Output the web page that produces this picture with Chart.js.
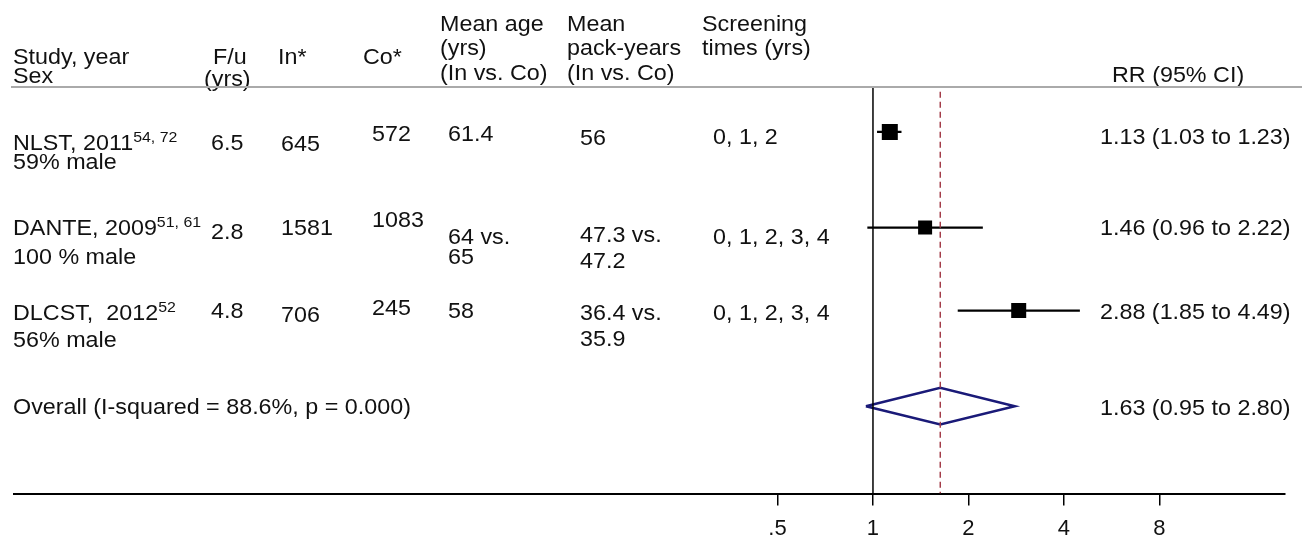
<!DOCTYPE html>
<html>
<head>
<meta charset="utf-8">
<script src="https://cdn.jsdelivr.net/npm/chart.js@4.4.1/dist/chart.umd.min.js"></script>
<style>
  html, body { margin: 0; padding: 0; background: #fff; }
</style>
</head>
<body>
<canvas id="forest" width="1311" height="552"></canvas>
<script>
// ---- data ----
const studies = ['NLST, 2011', 'DANTE, 2009', 'DLCST,  2012'];
const refs = ['54, 72', '51, 61', '52'];
const sex = ['59% male', '100 % male', '56% male'];
const followUp = ['6.5', '2.8', '4.8'];
const nIntervention = ['645', '1581', '706'];
const nControl = ['572', '1083', '245'];
const meanAge = [['61.4'], ['64 vs.', '65'], ['58']];
const packYears = [['56'], ['47.3 vs.', '47.2'], ['36.4 vs.', '35.9']];
const screening = ['0, 1, 2', '0, 1, 2, 3, 4', '0, 1, 2, 3, 4'];
const rr = [1.13, 1.46, 2.88];
const rrLow = [1.03, 0.96, 1.85];
const rrHigh = [1.23, 2.22, 4.49];
const overallLabel = 'Overall (I-squared = 88.6%, p = 0.000)';
const overallRR = 1.63;
const overallLow = 0.95;
const overallHigh = 2.80;
const tickVals = [0.5, 1, 2, 4, 8];
const tickLabels = ['.5', '1', '2', '4', '8'];

// ---- layout / style ----
const rowPos = [1, 2.046, 2.954, 4];      // study rows, overall row last
const boxSide = [16, 14, 15];             // px, box size per study
// baseline offsets (px below row centre) of each table cell, per study row
const dy = {
  study: [18, 7, 9], sex: [37, 36, 36],
  fu: [18, 11, 7], inN: [19, 7, 11], coN: [9, -1, 4],
  age: [9, 16, 7], pack: [13, 14, 9], screen: [12, 16, 9], rr: [12, 7, 8]
};
const FONT = '"Liberation Sans", Arial, sans-serif';
const STRETCH = 1.06;
const NAVY = '#1a1a78';
const MAROON = '#a33c48';

function put(ctx, str, x, y, size) {
  ctx.save();
  ctx.font = (size || 22) + 'px ' + FONT;
  ctx.translate(x, y);
  ctx.scale(STRETCH, 1);
  ctx.fillText(str, 0, 0);
  const w = ctx.measureText(str).width * STRETCH;
  ctx.restore();
  return w;
}

const fmt = (a, b, c) => a.toFixed(2) + ' (' + b.toFixed(2) + ' to ' + c.toFixed(2) + ')';

const tablePlugin = {
  id: 'tableText',
  afterDraw(chart) {
    const ctx = chart.ctx;
    const ys = chart.scales.y;
    ctx.save();
    ctx.fillStyle = '#111';
    ctx.textBaseline = 'alphabetic';
    ctx.textAlign = 'left';

    // header
    put(ctx, 'Study, year', 13, 64); put(ctx, 'Sex', 13, 83);
    put(ctx, 'F/u', 213, 64); put(ctx, '(yrs)', 204, 86);
    put(ctx, 'In*', 278, 64);
    put(ctx, 'Co*', 363, 64);
    put(ctx, 'Mean age', 440, 31); put(ctx, '(yrs)', 440, 55); put(ctx, '(In vs. Co)', 440, 80);
    put(ctx, 'Mean', 567, 31); put(ctx, 'pack-years', 567, 55); put(ctx, '(In vs. Co)', 567, 80);
    put(ctx, 'Screening', 702, 31); put(ctx, 'times (yrs)', 702, 55);
    put(ctx, 'RR (95% CI)', 1112, 82);

    ctx.strokeStyle = '#aaaaaa';
    ctx.lineWidth = 2;
    ctx.beginPath();
    ctx.moveTo(11, 87); ctx.lineTo(1302, 87);
    ctx.stroke();

    // study rows
    studies.forEach((name, i) => {
      const y = ys.getPixelForValue(rowPos[i]);
      const w = put(ctx, name, 13, y + dy.study[i]);
      put(ctx, refs[i], 13 + w, y + dy.study[i] - 8, 15);
      put(ctx, sex[i], 13, y + dy.sex[i]);
      put(ctx, followUp[i], 211, y + dy.fu[i]);
      put(ctx, nIntervention[i], 281, y + dy.inN[i]);
      put(ctx, nControl[i], 372, y + dy.coN[i]);
      meanAge[i].forEach((t, k) => put(ctx, t, 448, y + dy.age[i] + k * 20));
      packYears[i].forEach((t, k) => put(ctx, t, 580, y + dy.pack[i] + k * 26));
      put(ctx, screening[i], 713, y + dy.screen[i]);
      put(ctx, fmt(rr[i], rrLow[i], rrHigh[i]), 1100, y + dy.rr[i]);
    });

    const yo = ys.getPixelForValue(rowPos[3]);
    put(ctx, overallLabel, 13, yo + 8);
    put(ctx, fmt(overallRR, overallLow, overallHigh), 1100, yo + 9);
    ctx.restore();
  }
};

const yMin = 0.498, yMax = 4.956;
const datasets = [];

// line of no effect
datasets.push({
  data: [{ x: 1, y: 0.52 }, { x: 1, y: yMax }],
  showLine: true, borderColor: '#000', borderWidth: 1.5, pointRadius: 0
});
// pooled estimate
datasets.push({
  data: [{ x: overallRR, y: 0.56 }, { x: overallRR, y: yMax }],
  showLine: true, borderColor: MAROON, borderWidth: 1.5, borderDash: [6, 4], pointRadius: 0
});
// confidence intervals
rr.forEach((v, i) => {
  datasets.push({
    data: [{ x: rrLow[i], y: rowPos[i] }, { x: rrHigh[i], y: rowPos[i] }],
    showLine: true, borderColor: '#000', borderWidth: 2.2, pointRadius: 0
  });
});
// study boxes
datasets.push({
  data: rr.map((v, i) => ({ x: v, y: rowPos[i] })),
  pointStyle: 'rect',
  pointRadius: boxSide.map(s => s / Math.SQRT2),
  backgroundColor: '#000', borderColor: '#000', borderWidth: 0
});
// overall diamond
const yd = rowPos[3], h = 0.2;
datasets.push({
  data: [
    { x: overallLow, y: yd }, { x: overallRR, y: yd - h },
    { x: overallHigh, y: yd }, { x: overallRR, y: yd + h },
    { x: overallLow, y: yd }
  ],
  showLine: true, fill: false, tension: 0,
  borderColor: NAVY, borderWidth: 2.5, pointRadius: 0
});

Chart.defaults.font.family = FONT;

new Chart(document.getElementById('forest'), {
  type: 'scatter',
  data: { datasets },
  options: {
    responsive: false,
    animation: false,
    layout: { padding: { left: 14, right: 26, top: 86, bottom: 0 } },
    plugins: { legend: { display: false }, tooltip: { enabled: false } },
    scales: {
      x: {
        type: 'logarithmic',
        min: 0.00196,
        max: 19.9,
        bounds: 'data',
        afterBuildTicks: scale => { scale.ticks = tickVals.map(v => ({ value: v })); },
        ticks: {
          autoSkip: false,
          maxRotation: 0,
          padding: 10,
          color: '#111',
          font: { size: 22 },
          callback: (val, idx) => tickLabels[idx]
        },
        grid: {
          display: true,
          drawOnChartArea: false,
          drawTicks: true,
          tickLength: 12,
          tickColor: '#000',
          lineWidth: 1.5
        },
        border: { display: true, color: '#000', width: 2 }
      },
      y: {
        type: 'linear',
        reverse: true,
        min: yMin,
        max: yMax,
        display: false
      }
    }
  },
  plugins: [tablePlugin]
});
</script>
</body>
</html>
